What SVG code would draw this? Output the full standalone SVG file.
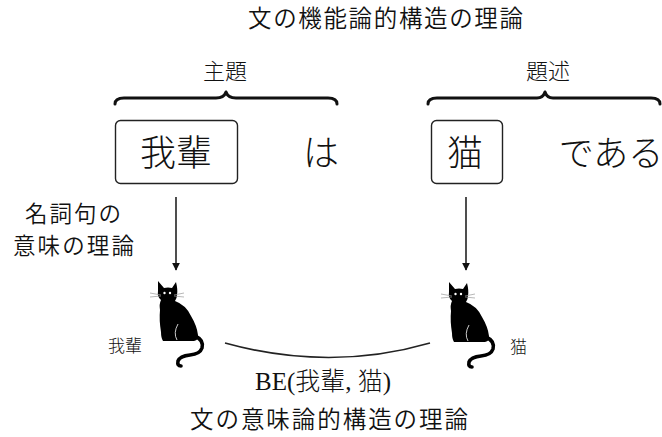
<svg xmlns="http://www.w3.org/2000/svg" xmlns:xlink="http://www.w3.org/1999/xlink" width="662" height="437" viewBox="0 0 662 437">
  <style>
    .sans { font-family: "Noto Sans CJK JP", "Liberation Sans", sans-serif; fill: #111; font-weight: 350; }
    .serif { font-family: "Liberation Serif", "Noto Sans CJK JP", serif; fill: #111; font-weight: 300; }
    .box { fill: #fff; stroke: #222; stroke-width: 1.4; }
    .brace { fill: none; stroke: #111; stroke-width: 3; stroke-linecap: round; stroke-linejoin: round; }
    .edge { fill: none; stroke: #222; stroke-width: 1.6; }
    .whisker { stroke: #999; stroke-width: 0.7; }
  </style>
  <defs>
    <marker id="arrow" viewBox="0 0 10 10" refX="9" refY="5" markerWidth="5" markerHeight="6" orient="auto" markerUnits="strokeWidth">
      <path d="M0,0 L10,5 L0,10 Z" fill="#111"/>
    </marker>
    <!-- sitting black cat, local origin at the top-left -->
    <g id="cat">
      <path d="M45,56 Q54,60 52,68 Q50,74 40,75 Q30,76 28,81 Q27,86 31,86" fill="none" stroke="#000" stroke-width="3.6" stroke-linecap="round"/>
      <path d="M8,1 L14,8 Q18,7 22,8 L26,2 Q28,10 27,15 Q27,18 25,21 Q36,25 41,36 Q47,46 48,55 Q49,60 44,61 L13,61 Q11,58 11,52 Q9,40 10,30 Q9,24 11,20 Q7,17 8,11 Z" fill="#000"/>
      <path d="M28,44 Q23,53 27,60" fill="none" stroke="#fff" stroke-width="0.8"/>
      <circle cx="14.5" cy="13" r="1.2" fill="#fff"/>
      <circle cx="20" cy="13" r="1.2" fill="#fff"/>
      <line class="whisker" x1="11" y1="15" x2="0" y2="13"/>
      <line class="whisker" x1="11" y1="16" x2="0" y2="17"/>
      <line class="whisker" x1="24" y1="15" x2="34" y2="13"/>
      <line class="whisker" x1="24" y1="16" x2="34" y2="17"/>
    </g>
  </defs>
  <rect width="662" height="437" fill="#fff"/>

  <!-- headings -->
  <text class="sans" x="248" y="27" font-size="23.5" textLength="275" lengthAdjust="spacing">文の機能論的構造の理論</text>
  <text class="sans" x="190" y="428" font-size="23.5" textLength="278" lengthAdjust="spacing">文の意味論的構造の理論</text>

  <!-- braces and their labels -->
  <g id="topic-brace">
    <text class="serif" x="225" y="79" font-size="22" text-anchor="middle">主題</text>
    <path class="brace" d="M115,104 Q115,98 124,98 L216,98 Q224,98 226,92 Q228,98 236,98 L328,98 Q337,98 337,104"/>
  </g>
  <g id="comment-brace">
    <text class="serif" x="548" y="79" font-size="22" text-anchor="middle">題述</text>
    <path class="brace" d="M428,104 Q428,98 437,98 L537,98 Q543,98 545,92 Q547,98 553,98 L651,98 Q660,98 660,104"/>
  </g>

  <!-- sentence words -->
  <g id="node-wagahai">
    <rect class="box" x="115.5" y="120.5" width="122" height="63" rx="5"/>
    <text class="serif" x="176" y="166" font-size="36" text-anchor="middle">我輩</text>
  </g>
  <g id="word-wa">
    <text class="serif" x="321" y="166" font-size="36" text-anchor="middle">は</text>
  </g>
  <g id="node-neko">
    <rect class="box" x="431.5" y="120.5" width="71" height="63" rx="5"/>
    <text class="serif" x="465" y="166" font-size="36" text-anchor="middle">猫</text>
  </g>
  <g id="word-dearu">
    <text class="serif" x="611" y="166" font-size="35" text-anchor="middle">である</text>
  </g>

  <!-- side label -->
  <g id="np-label">
    <text class="sans" x="25" y="222" font-size="22.5" textLength="96" lengthAdjust="spacing">名詞句の</text>
    <text class="sans" x="13" y="254" font-size="22.5" textLength="121" lengthAdjust="spacing">意味の理論</text>
  </g>

  <!-- referents -->
  <g id="cat-wagahai">
    <use xlink:href="#cat" href="#cat" transform="translate(150,280)"/>
    <text class="serif" x="108" y="352" font-size="17">我輩</text>
  </g>
  <g id="cat-neko">
    <use xlink:href="#cat" href="#cat" transform="translate(441,281)"/>
    <text class="serif" x="510" y="353" font-size="17">猫</text>
  </g>

  <!-- connectors -->
  <g id="connectors">
    <line class="edge" x1="176" y1="197" x2="176" y2="270" marker-end="url(#arrow)"/>
    <line class="edge" x1="466" y1="197" x2="466" y2="270" marker-end="url(#arrow)"/>
    <path class="edge" d="M225,343 Q330,372 430,343"/>
  </g>
  <text class="serif" x="255" y="390" font-size="25">BE(我輩, 猫)</text>
</svg>
